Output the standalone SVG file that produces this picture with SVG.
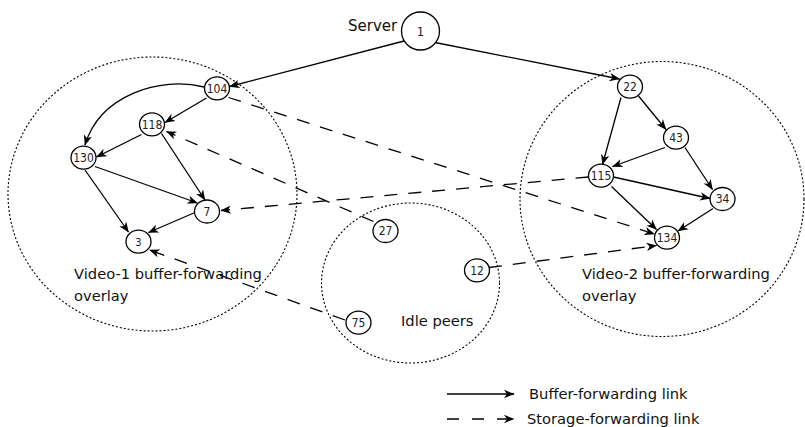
<svg xmlns="http://www.w3.org/2000/svg" width="805" height="427" viewBox="0 0 805 427">
<style>
.bg{fill:#fff}
.grp{fill:none;stroke:#000;stroke-width:1.1;stroke-dasharray:2 2}
.node ellipse,.node circle{fill:#fff;stroke:#000;stroke-width:1.3}
.nl{font-family:"DejaVu Sans Condensed","DejaVu Sans",sans-serif;font-size:12px;fill:#222;text-anchor:middle}
.lbl{font-family:"DejaVu Sans",Verdana,sans-serif;font-size:14.7px;fill:#111}
.s{fill:none;stroke:#000;stroke-width:1.3;marker-end:url(#ah)}
.d{fill:none;stroke:#000;stroke-width:1.3;stroke-dasharray:13 11;marker-end:url(#ah)}
</style>
<defs>
<marker id="ah" markerWidth="12" markerHeight="10" refX="10" refY="5" orient="auto" markerUnits="userSpaceOnUse"><path d="M0,0.8 L10.5,5 L0,9.2 L3,5 Z" fill="#000" stroke="none"/></marker>
</defs>
<rect class="bg" x="0" y="0" width="805" height="427"/>
<g id="groups">
<ellipse class="grp" cx="152.5" cy="194" rx="144.5" ry="137"/>
<ellipse class="grp" cx="662" cy="199" rx="142" ry="137.5"/>
<ellipse class="grp" cx="410.5" cy="283" rx="89" ry="80"/>
</g>
<g id="connectors">
<path class="s" d="M404,41 L229.5,86.5"/>
<path class="s" d="M435,42.5 L619.5,79"/>
<path class="s" d="M204,87 C160,76 100,95 85,145"/>
<path class="s" d="M206.5,98 L165,122.5"/>
<path class="s" d="M141.5,134.5 L96.5,157"/>
<path class="s" d="M161.5,133.5 L205,200"/>
<path class="s" d="M95,166.5 L197.5,203"/>
<path class="s" d="M85,170 L128.5,232"/>
<path class="s" d="M195,212.5 L148.5,232.5"/>
<path class="s" d="M638.5,96 L666,129.5"/>
<path class="s" d="M621,97.5 L602.5,164.5"/>
<path class="s" d="M665,147.5 L612.5,166.5"/>
<path class="s" d="M685,147.5 L712.5,189.5"/>
<path class="s" d="M613.5,177 L710,198.5"/>
<path class="s" d="M611.5,186.5 L656.5,229.5"/>
<path class="s" d="M713,208.5 L678,231"/>
<path class="d" d="M228.5,97.5 L654.5,234"/>
<path class="d" d="M373.5,221.5 L166.5,131.5"/>
<path class="d" d="M588.5,177 L221,210.5"/>
<path class="d" d="M345,320 L149.5,250"/>
<path class="d" d="M489,267.5 L656.5,245.5"/>
</g>
<g id="n1" class="node"><circle cx="420.5" cy="31" r="19"/><text class="nl" x="420.5" y="35.5" style="font-size:13px">1</text></g>
<g id="n104" class="node"><ellipse cx="217" cy="88.3" rx="12.5" ry="11.5"/><text class="nl" x="217" y="92.5">104</text></g>
<g id="n118" class="node"><ellipse cx="152" cy="124.3" rx="12.5" ry="11.5"/><text class="nl" x="152" y="128.5">118</text></g>
<g id="n130" class="node"><ellipse cx="83.5" cy="157.7" rx="12.5" ry="11.5"/><text class="nl" x="83.5" y="161.9">130</text></g>
<g id="n7" class="node"><ellipse cx="207" cy="211.5" rx="12.5" ry="11.5"/><text class="nl" x="207" y="215.7">7</text></g>
<g id="n3" class="node"><ellipse cx="138.5" cy="241.7" rx="12.5" ry="11.5"/><text class="nl" x="138.5" y="245.6" style="font-size:11px">3</text></g>
<g id="n27" class="node"><ellipse cx="385.5" cy="231" rx="12.5" ry="11.5"/><text class="nl" x="385.5" y="235.2">27</text></g>
<g id="n75" class="node"><ellipse cx="358.5" cy="322.7" rx="12.5" ry="11.5"/><text class="nl" x="358.5" y="326.9">75</text></g>
<g id="n22" class="node"><ellipse cx="630" cy="86.7" rx="12.5" ry="11.5"/><text class="nl" x="630" y="90.9">22</text></g>
<g id="n43" class="node"><ellipse cx="676" cy="137.7" rx="12.5" ry="11.5"/><text class="nl" x="676" y="141.9">43</text></g>
<g id="n115" class="node"><ellipse cx="601" cy="175.7" rx="12.5" ry="11.5"/><text class="nl" x="601" y="179.9">115</text></g>
<g id="n34" class="node"><ellipse cx="722.5" cy="199" rx="12.5" ry="11.5"/><text class="nl" x="722.5" y="203.2">34</text></g>
<g id="n134" class="node"><ellipse cx="667" cy="237.7" rx="12.5" ry="11.5"/><text class="nl" x="667" y="241.9">134</text></g>
<g id="n12" class="node"><ellipse cx="477" cy="270.3" rx="12.5" ry="11.5"/><text class="nl" x="477" y="274.5">12</text></g>
<g id="labels">
<text class="lbl" x="348" y="30.5" style="font-size:15px">Server</text>
<text class="lbl" x="74" y="279">Video-1 buffer-forwarding</text>
<text class="lbl" x="74" y="300.5">overlay</text>
<text class="lbl" x="582" y="279">Video-2 buffer-forwarding</text>
<text class="lbl" x="582" y="300.5">overlay</text>
<text class="lbl" x="401" y="325.5">Idle peers</text>
</g>
<g id="legend">
<path class="s" d="M447,394 L514,394"/>
<path class="d" d="M447,419 L514,419" style="stroke-dasharray:12 13"/>
<text class="lbl" x="529" y="399">Buffer-forwarding link</text>
<text class="lbl" x="527" y="424">Storage-forwarding link</text>
</g>
</svg>
